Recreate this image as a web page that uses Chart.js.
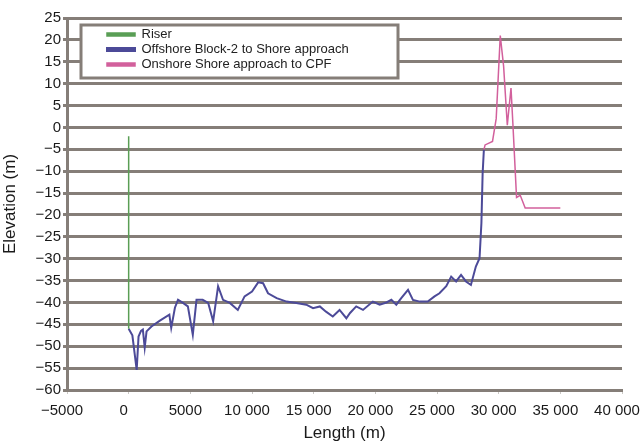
<!DOCTYPE html>
<html>
<head>
<meta charset="utf-8">
<script src="https://cdn.jsdelivr.net/npm/chart.js@4.4.1/dist/chart.umd.min.js"></script>
<style>
  html, body { margin: 0; padding: 0; background: #ffffff; }
  #wrap { width: 641px; height: 445px; position: relative; }
</style>
</head>
<body>
<div id="wrap"><canvas id="c"></canvas></div>
<script>
// ---- Data ----
const seriesNames = ['Riser', 'Offshore Block-2 to Shore approach', 'Onshore Shore approach to CPF'];

const riserX = [0, 0];
const riserY = [-2, -46];

const offshoreX = [0, 300, 650, 800, 1000, 1150, 1300, 1450, 1850, 2500, 3300, 3450, 3750, 4000, 4400, 4800,
  5200, 5500, 6000, 6450, 6850, 7250, 7650, 8200, 8850, 9400, 10000, 10500, 10900, 11300, 12000, 12800,
  13600, 14400, 14950, 15500, 16000, 16550, 17100, 17650, 17950, 18450, 19000, 19800, 20350, 20900, 21300,
  21700, 22100, 22650, 23050, 23600, 24250, 24800, 25200, 25750, 26150, 26550, 26950, 27350, 27750, 28150,
  28450, 28600, 28700, 28800];
const offshoreY = [-46, -47.5, -55.4, -47.8, -46.5, -46.2, -50.3, -46.6, -45.5, -44.2, -42.8, -45.8, -41.2, -39.4, -40.1, -40.9,
  -47.4, -39.4, -39.4, -40.1, -44.3, -36.3, -39.4, -40.1, -41.7, -38.6, -37.5, -35.4, -35.6, -37.9, -39.0, -39.8,
  -40.1, -40.5, -41.3, -40.9, -42.1, -43.2, -41.7, -43.6, -42.4, -40.9, -41.7, -39.8, -40.5, -40.0, -39.4,
  -40.5, -39.0, -37.1, -39.4, -39.8, -39.8, -38.6, -37.9, -36.3, -34.1, -35.2, -33.7, -35.2, -36.0, -31.8,
  -29.9, -21.9, -10.5, -5.1];

const onshoreX = [28800, 28900, 29500, 29800, 30130, 30400, 30700, 31000, 31150, 31450, 31750, 32150, 35000];
const onshoreY = [-5.1, -4.0, -3.2, 2, 21, 14, 0.5, 9, 1, -16, -15.5, -18.4, -18.4];

const xTicksMin = -5000, xTicksMax = 40000, xStep = 5000;
const yTicksMin = -60, yTicksMax = 25, yStep = 5;

// ---- Styling ----
const GRID = '#857e78';
const FONT = "'Liberation Sans', Arial, Helvetica, sans-serif";

function pts(xs, ys) { return xs.map((x, i) => ({ x: x, y: ys[i] })); }

function fmt(v) {
  const neg = v < 0;
  const a = Math.abs(v);
  let s = String(a);
  if (a >= 10000) s = s.replace(/\B(?=(\d{3})+(?!\d))/g, ' ');
  return (neg ? '\u2212' : '') + s;
}

const legendBox = {
  id: 'legendBox',
  afterLayout(chart) {
    const lg = chart.legend;
    if (!lg) return;
    lg.left += 38; lg.right += 38; lg.top += 26; lg.bottom += 26;
  },
  afterDraw(chart) {
    const lg = chart.legend, ca = chart.chartArea, ctx = chart.ctx;
    ctx.save();
    ctx.fillStyle = '#ffffff';
    ctx.fillRect(ca.left + 14, ca.top + 7, 317, 53);
    ctx.strokeStyle = GRID;
    ctx.lineWidth = 3;
    ctx.strokeRect(ca.left + 14, ca.top + 7, 317, 53);
    ctx.restore();
    if (lg) lg.draw();
  }
};

new Chart(document.getElementById('c'), {
  type: 'line',
  data: {
    datasets: [
      { label: seriesNames[0], data: pts(riserX, riserY), borderColor: '#5a9e55', backgroundColor: '#5a9e55',
        borderWidth: 1.5, pointRadius: 0, tension: 0 },
      { label: seriesNames[1], data: pts(offshoreX, offshoreY), borderColor: '#4c4a98', backgroundColor: '#4c4a98',
        borderWidth: 2, pointRadius: 0, tension: 0 },
      { label: seriesNames[2], data: pts(onshoreX, onshoreY), borderColor: '#d2609c', backgroundColor: '#d2609c',
        borderWidth: 1.5, pointRadius: 0, tension: 0 }
    ]
  },
  options: {
    responsive: true,
    maintainAspectRatio: false,
    animation: false,
    layout: { autoPadding: false, padding: { left: 0, top: 18, right: 19, bottom: 0 } },
    plugins: {
      tooltip: { enabled: false },
      legend: {
        position: 'chartArea',
        align: 'start',
        labels: {
          boxWidth: 28, boxHeight: 3, padding: 2,
          color: '#222', font: { family: FONT, size: 13 }
        }
      }
    },
    scales: {
      x: {
        type: 'linear',
        min: xTicksMin, max: xTicksMax,
        afterFit(s) { s.height = 55; s.paddingLeft = 0; s.paddingRight = 0; },
        ticks: {
          stepSize: xStep, color: '#1a1a1a', font: { family: FONT, size: 15 },
          padding: 8, labelOffset: -5, maxRotation: 0, autoSkip: false,
          callback: (v) => fmt(v)
        },
        grid: { drawOnChartArea: false, drawTicks: true, tickLength: 4, color: 'rgba(150,145,140,0.5)', lineWidth: 1 },
        border: { display: true, color: GRID, width: 3 },
        title: { display: true, text: 'Length (m)', color: '#1a1a1a', font: { family: FONT, size: 17 },
          padding: { top: 0, bottom: 1 } }
      },
      y: {
        type: 'linear',
        min: yTicksMin, max: yTicksMax,
        afterFit(s) { s.width = 67; s.paddingTop = 0; s.paddingBottom = 0; },
        ticks: {
          stepSize: yStep, color: '#1a1a1a', font: { family: FONT, size: 15 }, padding: 2,
          callback: (v) => fmt(v)
        },
        grid: { color: GRID, lineWidth: 3, tickLength: 4 },
        border: { display: true, color: GRID, width: 3 },
        title: { display: true, text: 'Elevation (m)', color: '#1a1a1a', font: { family: FONT, size: 17 },
          padding: { top: 0, bottom: 0 } }
      }
    }
  },
  plugins: [legendBox]
});
</script>
</body>
</html>
